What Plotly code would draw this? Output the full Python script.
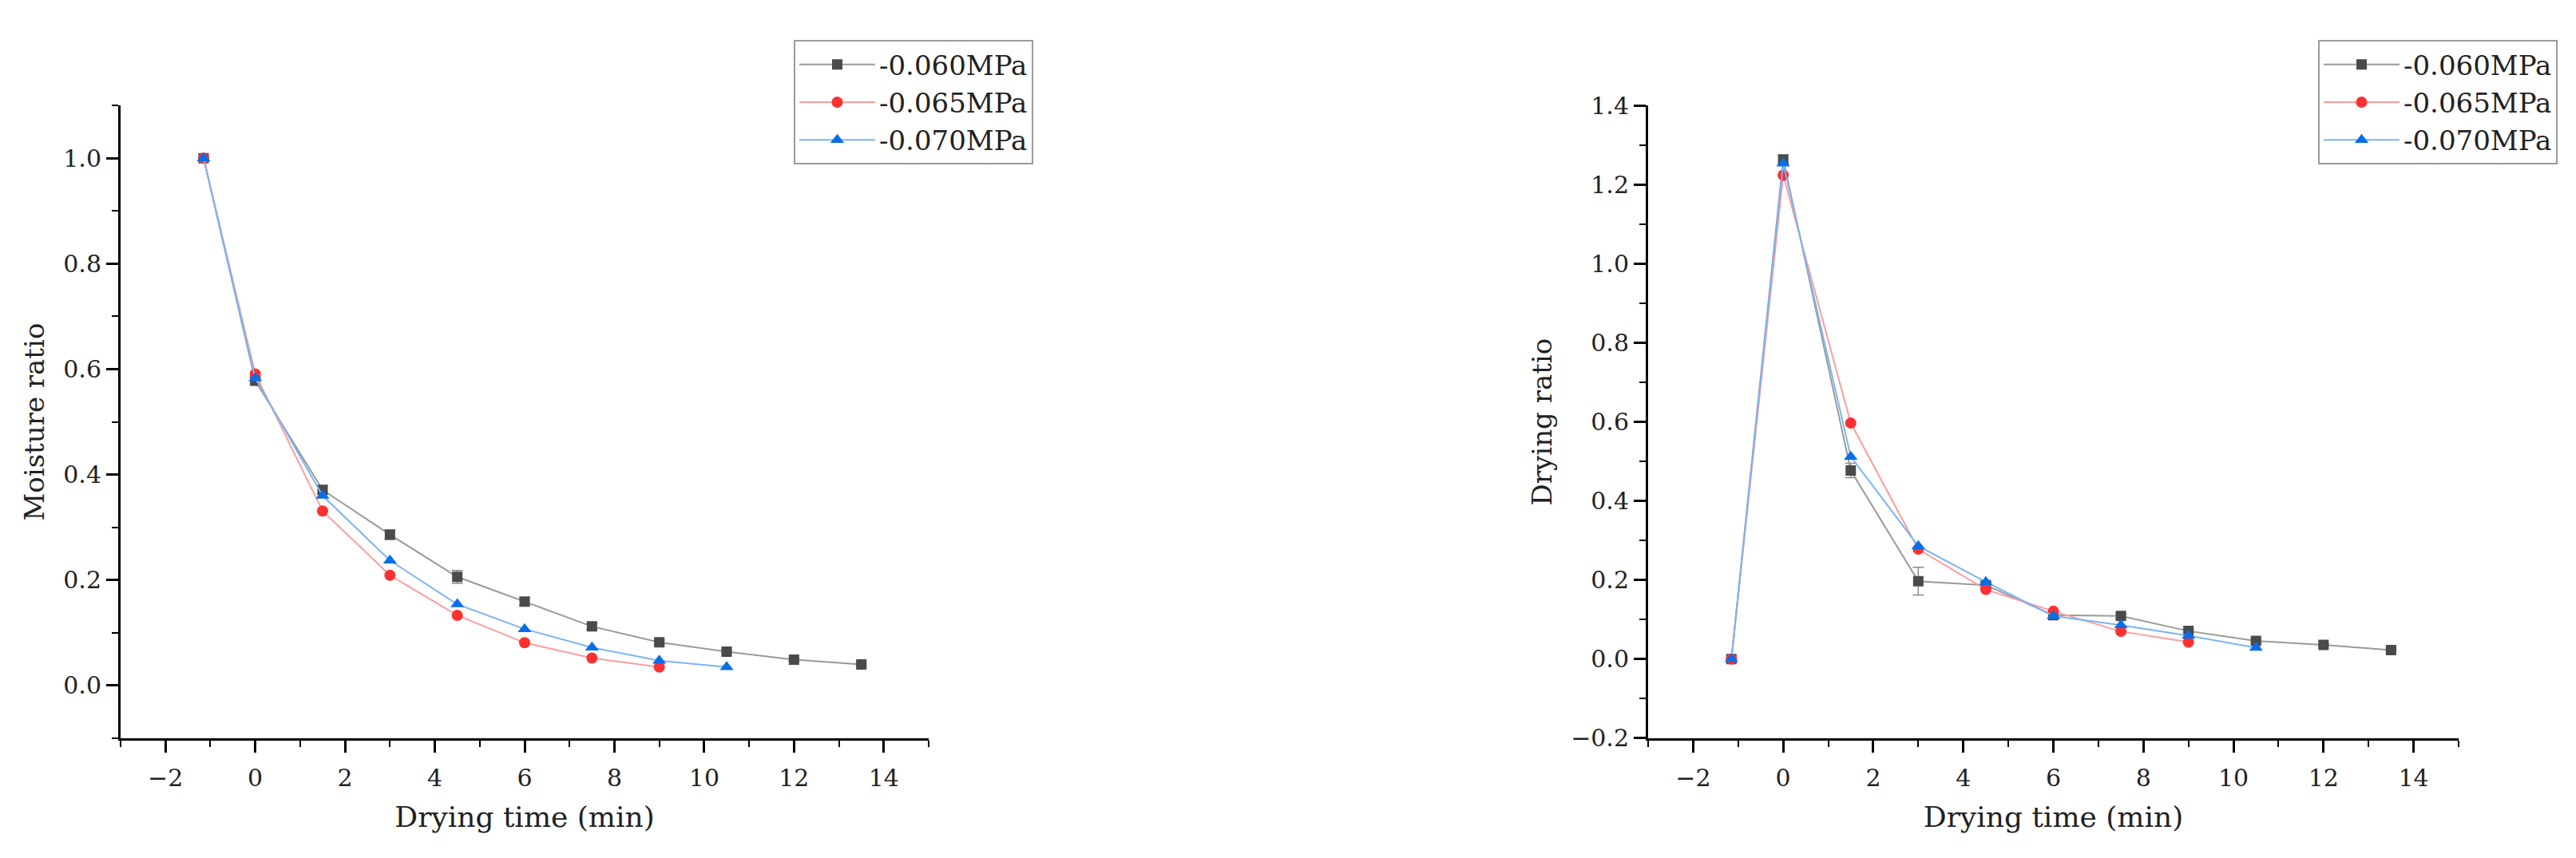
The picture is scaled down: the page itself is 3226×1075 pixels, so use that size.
import plotly.graph_objects as go

# ---- data ----
time = [-1.15, 0, 1.5, 3, 4.5, 6, 7.5, 9, 10.5, 12, 13.5]
series_names = ["-0.060MPa", "-0.065MPa", "-0.070MPa"]

mr_060 = [1.0, 0.578, 0.371, 0.286, 0.206, 0.159, 0.112, 0.082, 0.064, 0.049, 0.040]
mr_065 = [1.0, 0.591, 0.331, 0.209, 0.133, 0.081, 0.052, 0.035]
mr_070 = [1.0, 0.583, 0.360, 0.237, 0.154, 0.107, 0.072, 0.047, 0.035]
mr_060_err = [0, 0.006, 0.008, 0.009, 0.012, 0.008, 0.006, 0.004, 0.003, 0.003, 0.003]

dr_060 = [0.0, 1.264, 0.477, 0.197, 0.187, 0.111, 0.109, 0.071, 0.046, 0.036, 0.023]
dr_065 = [0.0, 1.224, 0.597, 0.278, 0.176, 0.121, 0.070, 0.043]
dr_070 = [0.0, 1.254, 0.512, 0.286, 0.195, 0.109, 0.086, 0.059, 0.029]
dr_060_err = [0, 0.010, 0.018, 0.035, 0.008, 0.006, 0.006, 0.005, 0.004, 0.003, 0.003]

x_ticks = [-2, 0, 2, 4, 6, 8, 10, 12, 14]

# ---- styles ----
FONT = "DejaVu Serif"
styles = [
    dict(line="#9a9a9a", marker="#4a4a4a", symbol="square", size=13),
    dict(line="#ff9c9c", marker="#ff3030", symbol="circle", size=14),
    dict(line="#7ab4f5", marker="#0a6ee6", symbol="triangle-up", size=15),
]

fig = go.Figure()

def add_series(xa, ya, legend, ys, errs):
    for i, (name, y) in enumerate(zip(series_names, ys)):
        st = styles[i]
        kw = {}
        if errs[i] is not None:
            kw["error_y"] = dict(type="data", array=errs[i][:len(y)], visible=True,
                                 color="#8a8a8a", thickness=1.5, width=7)
        fig.add_trace(go.Scatter(
            x=time[:len(y)], y=y, name=name, mode="lines+markers",
            line=dict(color=st["line"], width=2),
            marker=dict(color=st["marker"], symbol=st["symbol"], size=st["size"]),
            xaxis=xa, yaxis=ya, legend=legend, **kw))

add_series("x", "y", "legend", [mr_060, mr_065, mr_070], [mr_060_err, None, None])
add_series("x2", "y2", "legend2", [dr_060, dr_065, dr_070], [dr_060_err, None, None])

W, H = 3226, 1075
ydom = [1 - 930 / H, 1 - 110 / H]

axis_common = dict(
    showline=True, linecolor="black", linewidth=3, mirror=False,
    ticks="outside", ticklen=15, tickwidth=2.5, tickcolor="black",
    showgrid=False, zeroline=False,
    tickfont=dict(family=FONT, size=30, color="#222"),
)

def xaxis(domain, anchor):
    return dict(axis_common, domain=domain, anchor=anchor, range=[-3, 15],
                tickmode="array", tickvals=x_ticks, ticklabelstandoff=6,
                minor=dict(ticks="outside", ticklen=8, tickwidth=2, tickcolor="black", dtick=1, tick0=0),
                title=dict(text="Drying time (min)", font=dict(family=FONT, size=36, color="#222"), standoff=20))

def yaxis(rng, anchor, title):
    return dict(axis_common, domain=ydom, anchor=anchor, range=rng,
                dtick=0.2, tick0=0, tickformat=".1f",
                minor=dict(ticks="outside", ticklen=8, tickwidth=2, tickcolor="black", dtick=0.1, tick0=0),
                title=dict(text=title, font=dict(family=FONT, size=34, color="#222"), standoff=14))

legend_common = dict(
    font=dict(family=FONT, size=34, color="#222"),
    bordercolor="#9a9a9a", borderwidth=2, bgcolor="white",
    xanchor="left", yanchor="top", y=1 - 25 / H, itemwidth=95,
)

fig.update_layout(
    width=W, height=H,
    margin=dict(l=0, r=0, t=0, b=0),
    paper_bgcolor="white", plot_bgcolor="white",
    xaxis=xaxis([143 / W, 1155 / W], "y"),
    yaxis=yaxis([-0.1, 1.1], "x", "Moisture ratio"),
    xaxis2=xaxis([2056 / W, 3071 / W], "y2"),
    yaxis2=yaxis([-0.2, 1.4], "x2", "Drying ratio"),
    legend=dict(legend_common, x=986 / W),
    legend2=dict(legend_common, x=2895 / W),
)

fig.write_html("out.html")
